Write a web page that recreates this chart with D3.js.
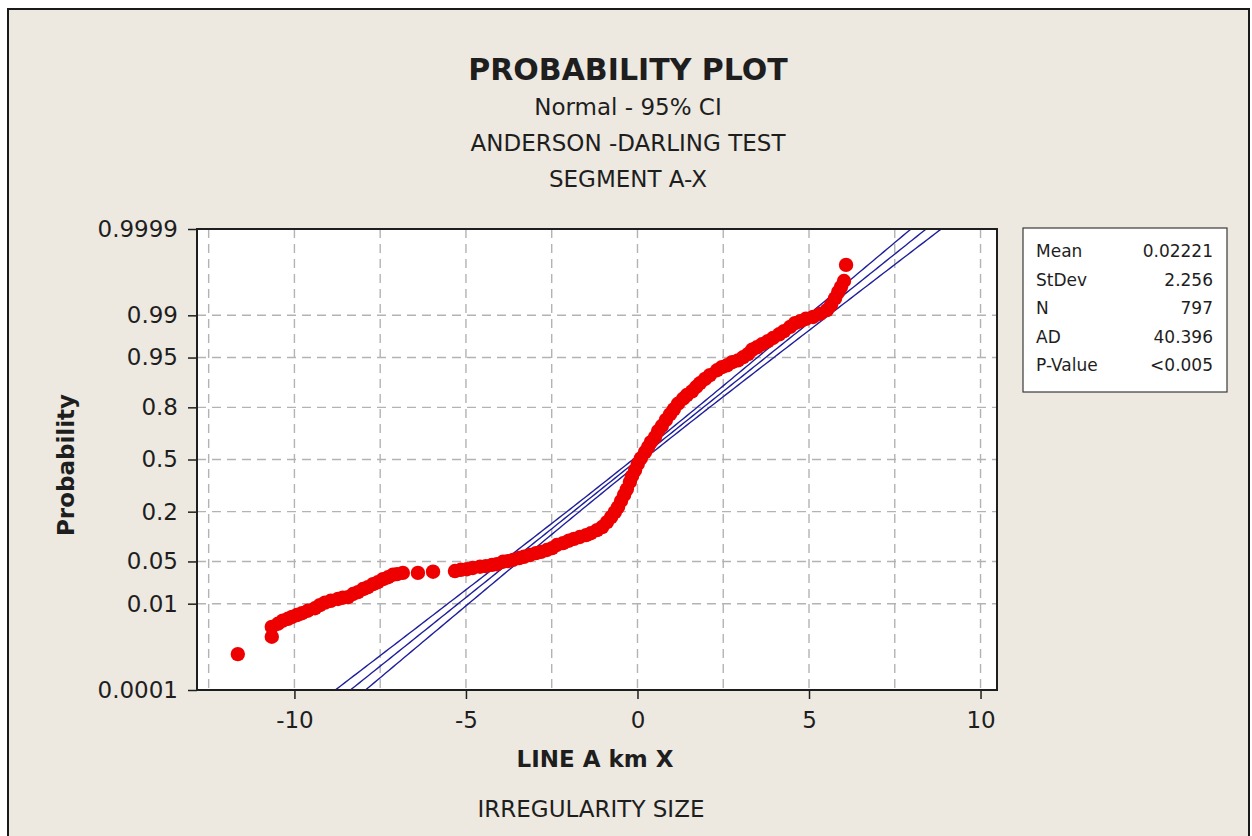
<!DOCTYPE html>
<html>
<head>
<meta charset="utf-8">
<script src="https://cdn.jsdelivr.net/npm/d3@7"></script>
<style>
body { margin: 0; background: #fff; }
svg text { font-family: "DejaVu Sans", sans-serif; fill: #1e1e1e; }
</style>
</head>
<body>
<div id="chart"></div>
<script>
var width = 1252, height = 836;
var plot = {left: 197, right: 997, top: 229, bottom: 690};

var xValues = [-11.65, -10.66, -10.66, -10.48, -10.34, -10.19, -10.07, -9.93, -9.78, -9.61,
  -9.40, -9.26, -9.11, -8.94, -8.73, -8.59, -8.44, -8.29, -8.15, -8.00,
  -7.86, -7.71, -7.57, -7.42, -7.27, -7.13, -7.01, -6.84, -6.40, -5.96,
  -5.32, -5.15, -4.97, -4.80, -4.59, -4.42, -4.24, -4.10, -3.92, -3.78,
  -3.63, -3.45, -3.31, -3.13, -2.96, -2.81, -2.64, -2.49, -2.35, -2.17,
  -2.00, -1.85, -1.68, -1.50, -1.36, -1.18, -1.03, -0.89, -0.77, -0.66,
  -0.57, -0.48, -0.39, -0.31, -0.22, -0.16, -0.07, 0.01, 0.10, 0.22,
  0.31, 0.39, 0.51, 0.60, 0.71, 0.83, 0.95, 1.06, 1.18, 1.33,
  1.44, 1.59, 1.71, 1.82, 1.97, 2.11, 2.32, 2.46, 2.61, 2.76,
  2.93, 3.08, 3.22, 3.34, 3.48, 3.63, 3.80, 3.95, 4.13, 4.27,
  4.45, 4.59, 4.74, 4.91, 5.12, 5.32, 5.52, 5.64, 5.76, 5.85,
  5.93, 6.02, 6.08];
var normalScores = [-3.14, -2.86, -2.70, -2.65, -2.60, -2.57, -2.54, -2.51, -2.48, -2.44,
  -2.40, -2.35, -2.31, -2.28, -2.25, -2.23, -2.22, -2.17, -2.14, -2.09,
  -2.06, -2.01, -1.98, -1.93, -1.90, -1.86, -1.85, -1.83, -1.83, -1.81,
  -1.80, -1.78, -1.77, -1.75, -1.73, -1.72, -1.70, -1.69, -1.65, -1.64,
  -1.62, -1.59, -1.57, -1.54, -1.51, -1.49, -1.46, -1.43, -1.38, -1.35,
  -1.31, -1.28, -1.25, -1.22, -1.19, -1.14, -1.09, -1.01, -0.93, -0.85,
  -0.77, -0.67, -0.57, -0.48, -0.36, -0.27, -0.17, -0.07, 0.02, 0.12,
  0.20, 0.28, 0.36, 0.46, 0.54, 0.64, 0.73, 0.81, 0.90, 0.98,
  1.04, 1.10, 1.17, 1.23, 1.30, 1.36, 1.44, 1.49, 1.52, 1.57,
  1.60, 1.65, 1.70, 1.77, 1.81, 1.86, 1.91, 1.96, 2.02, 2.07,
  2.14, 2.20, 2.23, 2.27, 2.30, 2.35, 2.41, 2.49, 2.60, 2.70,
  2.78, 2.88, 3.14];

var xTicks = [-10, -5, 0, 5, 10];
var xGrid = [-12.5, -10, -7.5, -5, -2.5, 0, 2.5, 5, 7.5, 10];
var probTicks = [0.0001, 0.01, 0.05, 0.2, 0.5, 0.8, 0.95, 0.99, 0.9999];
var probLabels = ["0.0001", "0.01", "0.05", "0.2", "0.5", "0.8", "0.95", "0.99", "0.9999"];
var probGrid = [0.01, 0.05, 0.2, 0.5, 0.8, 0.95, 0.99];

var statNames = ["Mean", "StDev", "N", "AD", "P-Value"];
var statValues = ["0.02221", "2.256", "797", "40.396", "<0.005"];
var mean = 0.02221, stdev = 2.256, n = 797;

var title = "PROBABILITY PLOT";
var subTitles = ["Normal - 95% CI", "ANDERSON -DARLING TEST", "SEGMENT A-X"];

// inverse normal cdf (Acklam)
function probit(p) {
  var a = [-39.69683028665376, 220.9460984245205, -275.9285104469687, 138.3577518672690, -30.66479806614716, 2.506628277459239];
  var b = [-54.47609879822406, 161.5858368580409, -155.6989798598866, 66.80131188771972, -13.28068155288572];
  var c = [-0.007784894002430293, -0.3223964580411365, -2.400758277161838, -2.549732539343734, 4.374664141464968, 2.938163982698783];
  var d = [0.007784695709041462, 0.3224671290700398, 2.445134137142996, 3.754408661907416];
  var q, r;
  if (p < 0.02425) {
    q = Math.sqrt(-2 * Math.log(p));
    return (((((c[0]*q+c[1])*q+c[2])*q+c[3])*q+c[4])*q+c[5]) / ((((d[0]*q+d[1])*q+d[2])*q+d[3])*q+1);
  } else if (p > 1 - 0.02425) {
    q = Math.sqrt(-2 * Math.log(1 - p));
    return -(((((c[0]*q+c[1])*q+c[2])*q+c[3])*q+c[4])*q+c[5]) / ((((d[0]*q+d[1])*q+d[2])*q+d[3])*q+1);
  }
  q = p - 0.5; r = q * q;
  return (((((a[0]*r+a[1])*r+a[2])*r+a[3])*r+a[4])*r+a[5])*q / (((((b[0]*r+b[1])*r+b[2])*r+b[3])*r+b[4])*r+1);
}

var svg = d3.select("#chart").append("svg")
  .attr("width", width).attr("height", height);

svg.append("rect").attr("x", 8).attr("y", 9).attr("width", 1241).attr("height", 840)
  .attr("fill", "#ede9e0").attr("stroke", "#1a1a1a").attr("stroke-width", 2);

var zMax = probit(0.9999);
var xScale = d3.scaleLinear().domain([-12.84, 10.48]).range([plot.left, plot.right]);
var yScale = d3.scaleLinear().domain([-zMax, zMax]).range([plot.bottom, plot.top]);

svg.append("rect")
  .attr("x", plot.left).attr("y", plot.top)
  .attr("width", plot.right - plot.left).attr("height", plot.bottom - plot.top)
  .attr("fill", "#fff");

svg.append("clipPath").attr("id", "clip").append("rect")
  .attr("x", plot.left).attr("y", plot.top)
  .attr("width", plot.right - plot.left).attr("height", plot.bottom - plot.top);

// grid
svg.append("g").selectAll("line").data(xGrid).enter().append("line")
  .attr("x1", function(d) { return xScale(d); }).attr("x2", function(d) { return xScale(d); })
  .attr("y1", plot.top).attr("y2", plot.bottom)
  .attr("stroke", "#b3b3b3").attr("stroke-width", 1.4).attr("stroke-dasharray", "9,6");
svg.append("g").selectAll("line").data(probGrid).enter().append("line")
  .attr("x1", plot.left).attr("x2", plot.right)
  .attr("y1", function(d) { return yScale(probit(d)); }).attr("y2", function(d) { return yScale(probit(d)); })
  .attr("stroke", "#b3b3b3").attr("stroke-width", 1.4).attr("stroke-dasharray", "9,6");

// fitted line and 95% CI
var zs = d3.range(-4, 4.01, 0.05);
function fitLine(k) {
  return zs.map(function(z) {
    var se = stdev * Math.sqrt(1 / n + z * z / (2 * (n - 1)));
    return [mean + z * stdev + k * 1.96 * se, z];
  });
}
var line = d3.line()
  .x(function(d) { return xScale(d[0]); })
  .y(function(d) { return yScale(d[1]); });
var fitG = svg.append("g").attr("clip-path", "url(#clip)");
[-1, 0, 1].forEach(function(k) {
  fitG.append("path").datum(fitLine(k)).attr("d", line)
    .attr("fill", "none").attr("stroke", "#1f1f9c").attr("stroke-width", 1.4);
});

// points
svg.append("g").attr("clip-path", "url(#clip)")
  .selectAll("circle").data(xValues).enter().append("circle")
  .attr("cx", function(d) { return xScale(d); })
  .attr("cy", function(d, i) { return yScale(normalScores[i]); })
  .attr("r", 7.2)
  .attr("fill", "#ef0000");

// axes
var xAxis = svg.append("g")
  .attr("transform", "translate(0," + plot.bottom + ")")
  .call(d3.axisBottom(xScale).tickValues(xTicks).tickSize(9).tickPadding(13).tickFormat(d3.format("d")));
var yAxis = svg.append("g")
  .attr("transform", "translate(" + plot.left + ",0)")
  .call(d3.axisLeft(yScale).tickValues(probTicks.map(probit)).tickSize(9).tickPadding(10)
    .tickFormat(function(d, i) { return probLabels[i]; }));
[xAxis, yAxis].forEach(function(ax) {
  ax.select(".domain").remove();
  ax.selectAll(".tick line").attr("stroke", "#1e1e1e").attr("stroke-width", 1.5);
  ax.selectAll(".tick text").style("font-family", "DejaVu Sans").style("font-size", "23px").attr("fill", "#1e1e1e");
});
xAxis.selectAll(".tick text").text(function(d) { return d < 0 ? "-" + Math.abs(d) : d; });

svg.append("rect")
  .attr("x", plot.left).attr("y", plot.top)
  .attr("width", plot.right - plot.left).attr("height", plot.bottom - plot.top)
  .attr("fill", "none").attr("stroke", "#1e1e1e").attr("stroke-width", 2);

// titles
svg.append("text").attr("x", 628).attr("y", 80).attr("text-anchor", "middle")
  .style("font-size", "30px").style("font-weight", "bold").text(title);
svg.append("g").selectAll("text").data(subTitles).enter().append("text")
  .attr("x", 628).attr("y", function(d, i) { return 115 + i * 36; })
  .attr("text-anchor", "middle").style("font-size", "23px").text(function(d) { return d; });

svg.append("text").attr("x", 595).attr("y", 767).attr("text-anchor", "middle")
  .style("font-size", "23px").style("font-weight", "bold").text("LINE A km X");
svg.append("text").attr("x", 591).attr("y", 817).attr("text-anchor", "middle")
  .style("font-size", "23px").text("IRREGULARITY SIZE");
svg.append("text").attr("transform", "translate(74,465) rotate(-90)").attr("text-anchor", "middle")
  .style("font-size", "23px").style("font-weight", "bold").text("Probability");

// stats box
var box = svg.append("g").attr("transform", "translate(1023,228)");
box.append("rect").attr("width", 204).attr("height", 164)
  .attr("fill", "#fff").attr("stroke", "#3a3a3a").attr("stroke-width", 1.2);
box.selectAll("text.name").data(statNames).enter().append("text").attr("class", "name")
  .attr("x", 13).attr("y", function(d, i) { return 23 + i * 28.5; })
  .attr("dominant-baseline", "central").style("font-size", "17px").text(function(d) { return d; });
box.selectAll("text.val").data(statValues).enter().append("text").attr("class", "val")
  .attr("x", 190).attr("y", function(d, i) { return 23 + i * 28.5; })
  .attr("text-anchor", "end").attr("dominant-baseline", "central")
  .style("font-size", "17px").text(function(d) { return d; });
</script>
</body>
</html>
